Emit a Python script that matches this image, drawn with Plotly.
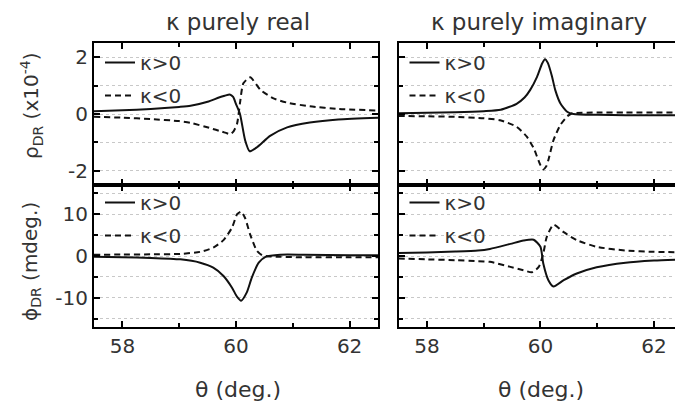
import plotly.graph_objects as go

# ---------------- data ----------------
# top-left: rho_DR, kappa purely real
th_rr_pos = [57.5, 58.0, 58.5, 59.0, 59.2, 59.5, 59.7, 59.8, 59.89, 59.95, 60.0, 60.07, 60.16, 60.24, 60.37, 60.6, 60.9, 61.3, 61.8, 62.5]
rho_rr_pos = [0.10, 0.13, 0.18, 0.25, 0.29, 0.43, 0.58, 0.64, 0.69, 0.60, 0.35, 0.0, -0.92, -1.31, -1.17, -0.77, -0.47, -0.30, -0.19, -0.13]
th_rr_neg = [57.5, 58.0, 58.5, 59.0, 59.2, 59.55, 59.75, 59.84, 59.9, 59.96, 60.02, 60.07, 60.13, 60.25, 60.43, 60.66, 60.9, 61.3, 61.8, 62.5]
rho_rr_neg = [-0.10, -0.13, -0.18, -0.25, -0.31, -0.50, -0.62, -0.68, -0.71, -0.60, -0.33, 0.38, 1.08, 1.29, 0.85, 0.55, 0.40, 0.27, 0.18, 0.12]

# top-right: rho_DR, kappa purely imaginary
th_ri_pos = [57.5, 58.0, 58.5, 59.0, 59.3, 59.58, 59.72, 59.82, 59.94, 60.03, 60.08, 60.13, 60.2, 60.26, 60.35, 60.47, 60.58, 61.0, 61.5, 62.5]
rho_ri_pos = [0.03, 0.04, 0.06, 0.10, 0.15, 0.36, 0.58, 0.85, 1.31, 1.78, 1.93, 1.80, 1.35, 0.85, 0.38, 0.08, 0.0, -0.03, -0.04, -0.04]
th_ri_neg = [57.5, 58.0, 58.5, 59.0, 59.29, 59.58, 59.76, 59.88, 59.94, 60.0, 60.05, 60.1, 60.14, 60.23, 60.35, 60.47, 60.55, 61.0, 61.5, 62.5]
rho_ri_neg = [-0.07, -0.08, -0.10, -0.15, -0.22, -0.45, -0.80, -1.20, -1.50, -1.80, -1.95, -1.85, -1.62, -0.92, -0.39, -0.09, 0.02, 0.05, 0.05, 0.05]

# bottom-left: phi_DR, kappa purely real
th_pr_pos = [57.5, 58.0, 58.5, 59.02, 59.37, 59.6, 59.78, 59.93, 60.02, 60.09, 60.19, 60.28, 60.4, 60.52, 60.78, 61.2, 62.0, 62.5]
phi_pr_pos = [-0.2, -0.3, -0.45, -0.8, -1.6, -2.8, -4.8, -7.6, -9.8, -10.7, -8.7, -5.1, -1.6, -0.2, 0.3, 0.3, 0.2, 0.2]
th_pr_neg = [57.5, 58.0, 58.5, 59.02, 59.37, 59.6, 59.78, 59.93, 60.02, 60.09, 60.16, 60.25, 60.37, 60.46, 60.6, 61.2, 62.0, 62.5]
phi_pr_neg = [0.3, 0.35, 0.4, 0.5, 1.0, 2.0, 3.8, 6.8, 10.0, 10.6, 9.1, 5.1, 1.2, 0.2, -0.1, -0.3, -0.3, -0.3]

# bottom-right: phi_DR, kappa purely imaginary
th_pi_pos = [57.5, 58.0, 58.5, 58.9, 59.11, 59.47, 59.7, 59.88, 60.0, 60.05, 60.14, 60.23, 60.41, 60.64, 60.99, 61.5, 62.0, 62.5]
phi_pi_pos = [0.7, 0.85, 1.05, 1.3, 1.7, 2.9, 3.7, 3.9, 2.2, -1.8, -5.8, -7.3, -5.8, -4.2, -2.7, -1.6, -1.1, -0.8]
th_pi_neg = [57.5, 58.0, 58.5, 58.9, 59.11, 59.47, 59.7, 59.85, 59.97, 60.05, 60.11, 60.23, 60.41, 60.64, 60.99, 61.5, 62.0, 62.5]
phi_pi_neg = [-0.6, -0.8, -1.0, -1.25, -1.4, -2.6, -3.4, -3.9, -2.6, 0.6, 4.5, 7.5, 5.7, 3.8, 2.2, 1.3, 1.0, 0.9]

legend_labels = ["κ>0", "κ<0"]
panel_titles = ["κ purely real", "κ purely imaginary"]
x_ticks = [58, 60, 62]
rho_ticks = [-2, 0, 2]
phi_ticks = [-10, 0, 10]

# ---------------- figure ----------------
FONT = "DejaVu Sans"
W, H = 676, 404
ML, MR, MT, MB = 94, 1, 43, 77
PW = W - ML - MR
PH = H - MT - MB


def px_x(p):
    return (p - ML) / PW


def px_y(p):
    return 1 - (p - MT) / PH


fig = go.Figure()

panels = [
    ("x", "y", th_rr_pos, rho_rr_pos, th_rr_neg, rho_rr_neg, "legend"),
    ("x2", "y2", th_ri_pos, rho_ri_pos, th_ri_neg, rho_ri_neg, "legend2"),
    ("x3", "y3", th_pr_pos, phi_pr_pos, th_pr_neg, phi_pr_neg, "legend3"),
    ("x4", "y4", th_pi_pos, phi_pi_pos, th_pi_neg, phi_pi_neg, "legend4"),
]
for i, (xa, ya, tp, vp, tn, vn, lg) in enumerate(panels):
    fig.add_trace(go.Scatter(x=tp, y=vp, xaxis=xa, yaxis=ya, mode="lines",
                             line=dict(color="#111", width=2, shape="spline", smoothing=0.6),
                             name=legend_labels[0], legend=lg, legendgroup=f"p{i}"))
    fig.add_trace(go.Scatter(x=tn, y=vn, xaxis=xa, yaxis=ya, mode="lines",
                             line=dict(color="#111", width=2, shape="spline", smoothing=0.6, dash="6px,4px"),
                             name=legend_labels[1], legend=lg, legendgroup=f"n{i}"))

left_dom = [0, px_x(378)]
right_dom = [px_x(398.5), 1]
top_dom = [0.5, 1]
bot_dom = [0, 0.5]

tickfont = dict(family=FONT, size=20, color="#333")
grid_col = "#c8c8c8"


def xaxis(dom, anchor, labels):
    return dict(domain=dom, anchor=anchor, range=[57.5, 62.5] if dom is left_dom else [57.5, 62.37],
                showline=True, linecolor="black", linewidth=2, mirror="ticks",
                ticks="inside", ticklen=6, tickwidth=1.5, tickcolor="black",
                tickvals=x_ticks, ticktext=[str(v) for v in x_ticks], showticklabels=labels,
                tickfont=tickfont, showgrid=False, zeroline=False,
                minor=dict(ticks="inside", ticklen=4, tickwidth=1.5, tickcolor="black", dtick=1, tick0=58, showgrid=False))


def yaxis(dom, anchor, rng, vals, mdt, labels, mirror):
    return dict(domain=dom, anchor=anchor, range=rng,
                showline=True, linecolor="black", linewidth=2, mirror=mirror,
                ticks="inside", ticklen=6, tickwidth=1.5, tickcolor="black",
                tickvals=vals, ticktext=[str(v) for v in vals], showticklabels=labels,
                tickfont=tickfont, showgrid=True, gridcolor=grid_col, griddash="dot", gridwidth=1,
                zeroline=False,
                minor=dict(ticks="inside", ticklen=4, tickwidth=1.5, tickcolor="black", dtick=mdt, tick0=0,
                           showgrid=True, gridcolor=grid_col, griddash="dot", gridwidth=1))


fig.update_layout(
    xaxis=xaxis(left_dom, "y", False),
    xaxis2=xaxis(right_dom, "y2", False),
    xaxis3=xaxis(left_dom, "y3", True),
    xaxis4=xaxis(right_dom, "y4", True),
    yaxis=yaxis(top_dom, "x", [-2.5, 2.5], rho_ticks, 1, True, "ticks"),
    yaxis2=yaxis(top_dom, "x2", [-2.5, 2.5], rho_ticks, 1, False, False),
    yaxis3=yaxis(bot_dom, "x3", [-17, 17], phi_ticks, 5, True, "ticks"),
    yaxis4=yaxis(bot_dom, "x4", [-17, 17], phi_ticks, 5, False, False),
)

leg_common = dict(xanchor="left", yanchor="top", bgcolor="rgba(0,0,0,0)",
                  font=dict(family=FONT, size=20, color="#333"), tracegroupgap=4)
fig.update_layout(
    legend=dict(x=px_x(100), y=px_y(43), **leg_common),
    legend2=dict(x=px_x(404.5), y=px_y(43), **leg_common),
    legend3=dict(x=px_x(100), y=px_y(183), **leg_common),
    legend4=dict(x=px_x(404.5), y=px_y(183), **leg_common),
)

ann = []
ann.append(dict(text=panel_titles[0], x=px_x(237.5), y=px_y(22), xref="paper", yref="paper",
                xanchor="center", yanchor="middle",
                showarrow=False, font=dict(family=FONT, size=23, color="#333")))
ann.append(dict(text=panel_titles[1], x=px_x(538.5), y=px_y(22), xref="paper", yref="paper",
                xanchor="center", yanchor="middle",
                showarrow=False, font=dict(family=FONT, size=23, color="#333")))
for cx in (237.5, 541):
    ann.append(dict(text="θ (deg.)", x=px_x(cx), y=px_y(389), xref="paper", yref="paper",
                    xanchor="center", yanchor="middle",
                    showarrow=False, font=dict(family=FONT, size=22, color="#333")))
ann.append(dict(text="ρ<sub>DR</sub> (x10<sup>-4</sup>)", x=px_x(31), y=px_y(106), xref="paper", yref="paper",
                xanchor="center", yanchor="middle",
                showarrow=False, textangle=-90, font=dict(family=FONT, size=20, color="#333")))
ann.append(dict(text="ϕ<sub>DR</sub> (mdeg.)", x=px_x(31), y=px_y(262), xref="paper", yref="paper",
                xanchor="center", yanchor="middle",
                showarrow=False, textangle=-90, font=dict(family=FONT, size=20, color="#333")))

fig.update_layout(
    width=W, height=H,
    margin=dict(l=ML, r=MR, t=MT, b=MB, pad=0),
    paper_bgcolor="white", plot_bgcolor="white",
    annotations=ann, showlegend=True,
)

fig.write_html("out.html", config={"displayModeBar": False},
               post_script="document.body.style.margin='0';document.body.style.overflow='hidden';")
